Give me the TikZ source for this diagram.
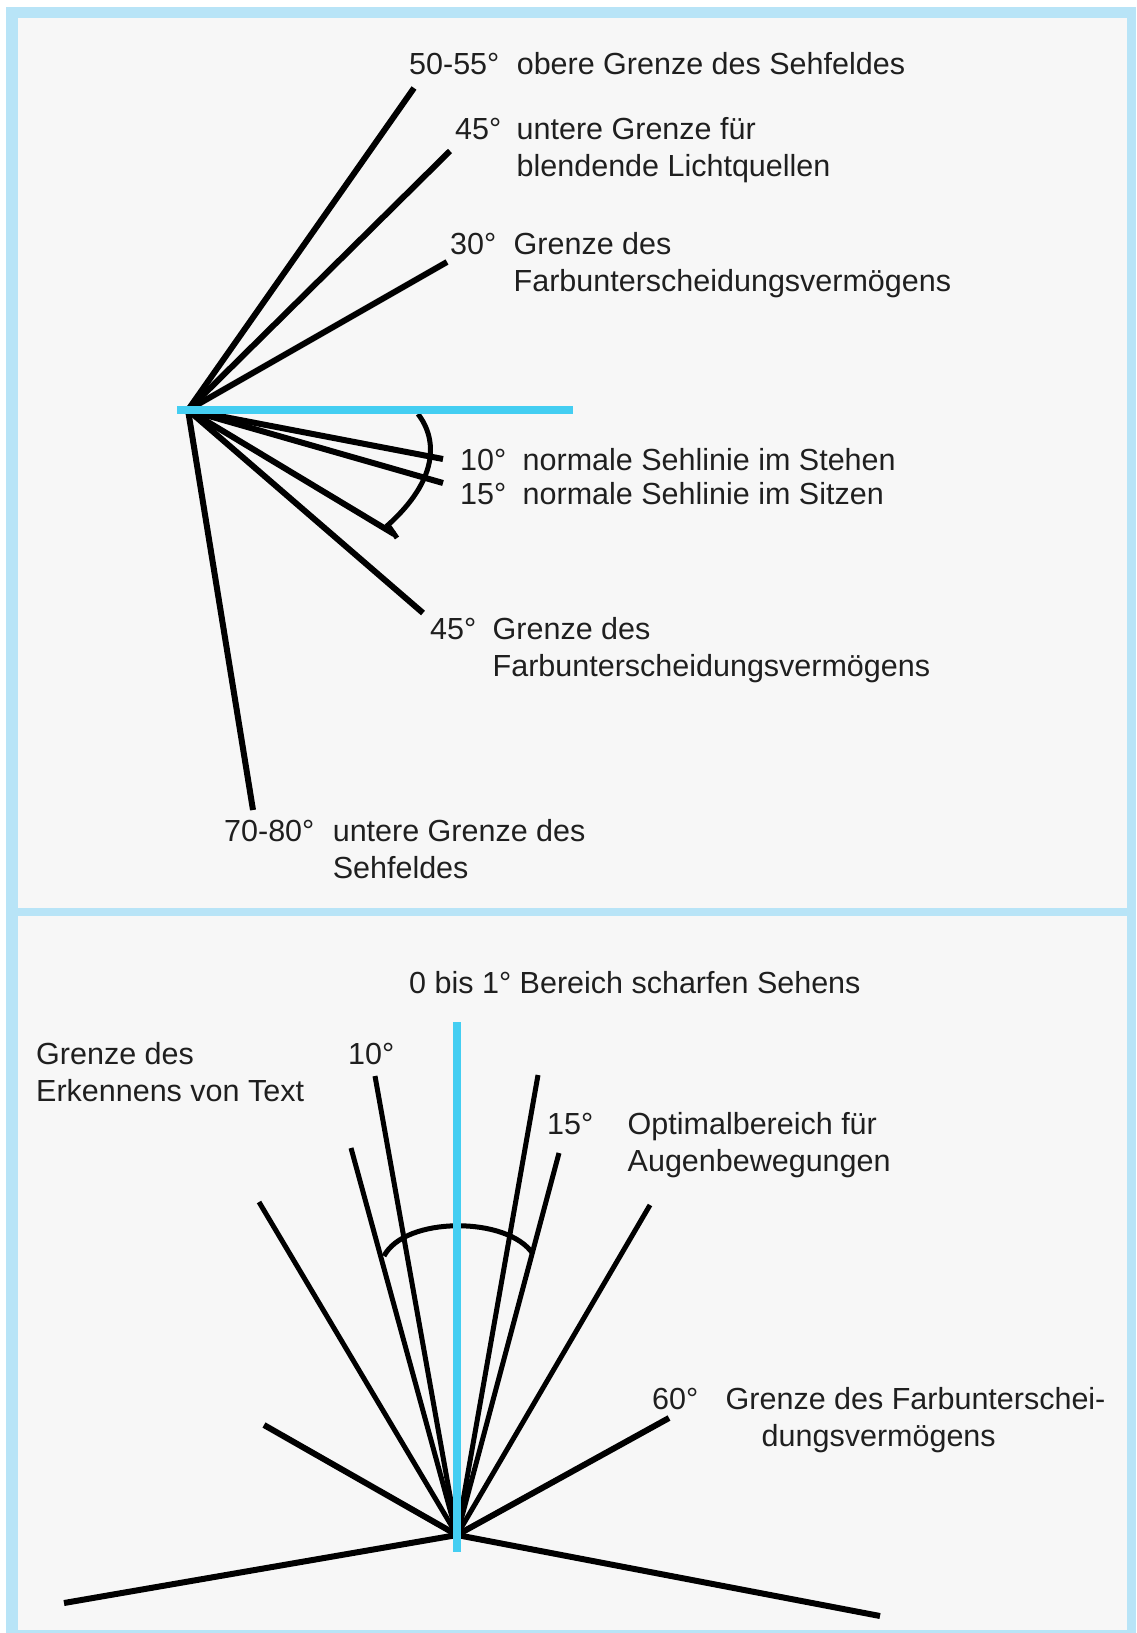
\documentclass[tikz,border=0pt]{standalone}
\usepackage{fontspec}
\setmainfont{Liberation Sans}
\usepackage{xcolor}
\usetikzlibrary{positioning}
\definecolor{framebg}{RGB}{184,228,247}
\definecolor{panelbg}{RGB}{247,247,247}
\definecolor{sightblue}{RGB}{68,206,242}
\newcommand{\lbl}{\fontsize{30.5}{37}\selectfont}

\begin{document}
\begin{tikzpicture}[x=1pt, y=-1pt,
  deg/.style={anchor=base west, inner sep=0pt, font=\lbl, text=black!88},
  desc/.style={align=left, inner sep=0pt, font=\lbl, text=black!88},
  twolines/.style={desc, yshift=-37pt},
  ray/.style={line width=6pt},
  thinray/.style={line width=5pt},
  sight/.style={sightblue, line width=8pt}]
\useasboundingbox (0,0) rectangle (1136,1633);
\fill[white] (0,0) rectangle (1136,1633);
\fill[framebg] (6,7) rectangle (1136,1633);
\fill[panelbg] (18,18) rectangle (1127,908);
\fill[panelbg] (18,916) rectangle (1127,1630);

\coordinate (sideEye) at (188,410);
\coordinate (sideEnd) at (573,410);
\coordinate (up55) at (414,88);
\coordinate (up45) at (450,151);
\coordinate (up30) at (447,262);
\coordinate (dn10) at (443,459);
\coordinate (dn15) at (443,483);
\coordinate (dn30) at (394,534);
\coordinate (dn45) at (423,613);
\coordinate (dn75) at (253,810);
\draw[ray] (sideEye) -- (up55);
\draw[ray] (sideEye) -- (up45);
\draw[ray] (sideEye) -- (up30);
\draw[ray] (sideEye) -- (dn10);
\draw[ray] (sideEye) -- (dn15);
\draw[ray] (sideEye) -- (dn30);
\draw[ray] (sideEye) -- (dn45);
\draw[ray] (sideEye) -- (dn75);
\draw[line width=5pt] (418,414) .. controls (438,440) and (438,480) .. (388,525) -- (397,538);
\draw[sight] (177,410) -- (sideEnd);

\node[deg] (deg55) at (409,74) {50-55°};
\node[desc, base right=17pt of deg55] (txt55) {obere Grenze des Sehfeldes};
\node[deg] (deg45) at (455,139) {45°};
\node[twolines, base right=15pt of deg45] (txt45) {untere Grenze für\\blendende Lichtquellen};
\node[deg] (deg30) at (450,254) {30°};
\node[twolines, base right=17pt of deg30] (txt30) {Grenze des\\Farbunterscheidungsvermögens};
\node[deg] (deg10) at (460,470) {10°};
\node[desc, base right=16pt of deg10] (txt10) {normale Sehlinie im Stehen};
\node[deg] (deg15) at (460,504) {15°};
\node[desc, base right=16pt of deg15] (txt15) {normale Sehlinie im Sitzen};
\node[deg] (deg45b) at (430,639) {45°};
\node[twolines, base right=16pt of deg45b] (txt45b) {Grenze des\\Farbunterscheidungsvermögens};
\node[deg] (deg75) at (224,841) {70-80°};
\node[twolines, base right=18pt of deg75] (txt75) {untere Grenze des\\Sehfeldes};

\coordinate (topEye) at (457,1535);
\coordinate (bl) at (64,1603);
\coordinate (br) at (880,1616);
\coordinate (ll) at (264,1425);
\coordinate (rr) at (669,1418);
\coordinate (l1) at (259,1202);
\coordinate (r1) at (650,1205);
\coordinate (l2) at (351,1148);
\coordinate (r2) at (559,1153);
\coordinate (l3) at (375,1076);
\coordinate (r3) at (538,1075);
\draw[ray] (topEye) -- (bl);
\draw[ray] (topEye) -- (br);
\draw[ray] (topEye) -- (ll);
\draw[ray] (topEye) -- (rr);
\draw[thinray] (topEye) -- (l1);
\draw[thinray] (topEye) -- (r1);
\draw[thinray] (topEye) -- (l2);
\draw[thinray] (topEye) -- (r2);
\draw[thinray] (topEye) -- (l3);
\draw[thinray] (topEye) -- (r3);
\draw[line width=5pt] (384,1256) .. controls (405,1216) and (508,1216) .. (533,1254);
\draw[sight] (457,1022) -- (457,1552);

\node[deg] (sharp) at (409,993) {0 bis 1° Bereich scharfen Sehens};
\node[twolines, anchor=base west] (textlim) at (36,1064) {Grenze des\\Erkennens von Text};
\node[deg] (deg10t) at (348,1064) {10°};
\node[deg] (deg15t) at (547,1134) {15°};
\node[twolines, base right=34pt of deg15t] (optimal) {Optimalbereich für\\Augenbewegungen};
\node[deg] (deg60) at (652,1409) {60°};
\node[twolines, base right=27pt of deg60] (txt60) {Grenze des Farbunterschei-\\\hspace*{36pt}dungsvermögens};
\end{tikzpicture}
\end{document}
